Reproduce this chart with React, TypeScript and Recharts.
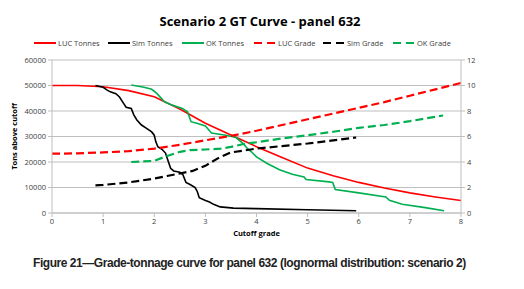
import { LineChart, Line, XAxis, YAxis, CartesianGrid } from "recharts";

// LUC (red)
const lucGrade = [0, 0.5, 1, 1.5, 2, 2.5, 3, 3.5, 4, 4.5, 5, 5.5, 6, 6.5, 7, 7.5, 8];
const lucTonnes = [50000, 50000, 49500, 48000, 45600, 40800, 35200, 30600, 26000, 21800, 17600, 14600, 12000, 9800, 7900, 6300, 4900];
const lucMeanGrade = [4.65, 4.68, 4.75, 4.85, 5.05, 5.35, 5.7, 6.05, 6.45, 6.9, 7.35, 7.8, 8.25, 8.7, 9.2, 9.7, 10.2];

// Sim (black)
const simTonnesGrade = [0.85, 1.0, 1.08, 1.14, 1.25, 1.32, 1.4, 1.45, 1.55, 1.6, 1.66, 1.75, 1.85, 1.95, 2.0, 2.03, 2.07, 2.15, 2.22, 2.27, 2.32, 2.38, 2.5, 2.56, 2.62, 2.7, 2.8, 2.84, 2.88, 2.99, 3.08, 3.16, 3.29, 3.45, 3.55, 4.0, 5.0, 5.95];
const simTonnes = [50000, 49300, 48200, 47500, 46800, 45500, 43000, 41500, 41000, 38500, 36500, 34500, 33200, 31800, 30500, 28000, 26000, 25000, 23500, 20500, 17500, 16500, 16000, 15000, 12000, 11200, 10000, 8500, 6000, 5000, 4300, 3400, 2400, 2100, 1900, 1700, 1300, 900];
const simMeanGradeX = [0.85, 1.0, 1.25, 1.5, 1.75, 2.0, 2.25, 2.5, 2.75, 3.0, 3.25, 3.5, 3.75, 4.0, 4.5, 5.0, 5.5, 5.95];
const simMeanGrade = [2.17, 2.2, 2.3, 2.4, 2.55, 2.7, 2.9, 3.1, 3.3, 3.7, 4.3, 4.75, 4.9, 5.05, 5.25, 5.45, 5.7, 5.92];

// OK (green)
const okTonnesGrade = [1.55, 1.8, 1.95, 2.05, 2.2, 2.35, 2.55, 2.65, 2.72, 2.85, 3.0, 3.12, 3.4, 3.6, 3.75, 3.82, 3.9, 4.0, 4.2, 4.45, 4.7, 4.93, 4.97, 5.42, 5.49, 5.54, 6.0, 6.53, 6.6, 6.85, 7.3, 7.67];
const okTonnes = [50200, 49300, 48500, 46900, 43600, 42300, 41000, 39700, 35800, 35100, 34100, 31400, 30500, 29600, 27000, 25300, 24000, 22000, 19500, 17000, 15200, 14100, 13100, 12200, 12000, 9200, 7900, 6300, 5000, 3400, 2100, 900];
const okMeanGradeX = [1.55, 2.0, 2.2, 2.5, 2.7, 3.0, 3.3, 3.5, 3.8, 4.0, 4.5, 5.0, 5.5, 6.0, 6.5, 7.0, 7.5, 7.65];
const okMeanGrade = [4.0, 4.09, 4.4, 4.8, 4.93, 4.98, 5.05, 5.19, 5.45, 5.55, 5.85, 6.1, 6.37, 6.68, 6.9, 7.2, 7.55, 7.65];

const xTicks = [0, 1, 2, 3, 4, 5, 6, 7, 8];
const leftTicks = [0, 10000, 20000, 30000, 40000, 50000, 60000];
const rightTicks = [0, 2, 4, 6, 8, 10, 12];

const pairs = (xs: number[], ys: number[]) => xs.map((x, i) => ({ x, y: ys[i] }));

const series = [
  { name: "LUC Tonnes", data: pairs(lucGrade, lucTonnes), color: "#FF0000", axis: "left", dash: undefined },
  { name: "Sim Tonnes", data: pairs(simTonnesGrade, simTonnes), color: "#000000", axis: "left", dash: undefined },
  { name: "OK Tonnes", data: pairs(okTonnesGrade, okTonnes), color: "#00B050", axis: "left", dash: undefined },
  { name: "LUC Grade", data: pairs(lucGrade, lucMeanGrade), color: "#FF0000", axis: "right", dash: "8 4" },
  { name: "Sim Grade", data: pairs(simMeanGradeX, simMeanGrade), color: "#000000", axis: "right", dash: "8 4" },
  { name: "OK Grade", data: pairs(okMeanGradeX, okMeanGrade), color: "#00B050", axis: "right", dash: "8 4" },
];

const legendPos = [34, 108, 182, 254, 323, 393];
const font = "'Open Sans', sans-serif";
const tick = { fill: "#404040", fontSize: 7.5, fontFamily: font };

export default function App() {
  return (
    <div style={{ position: "absolute", left: 0, top: 0, width: 524, height: 289, background: "#fff" }}>
      <div style={{ position: "absolute", top: 12, left: 0, width: 520, textAlign: "center", fontFamily: font, fontWeight: 700, fontSize: 13, color: "#000" }}>
        Scenario 2 GT Curve - panel 632
      </div>
      {series.map((s, i) => (
        <div key={s.name} style={{ position: "absolute", left: legendPos[i], top: 37, height: 12, display: "flex", alignItems: "center", fontFamily: font, fontSize: 7.5, color: "#404040" }}>
          <svg width={22} height={4} style={{ marginRight: 2 }}>
            <line x1={0} y1={2} x2={22} y2={2} stroke={s.color} strokeWidth={2} strokeDasharray={s.dash ? "8 5" : undefined} />
          </svg>
          {s.name}
        </div>
      ))}
      <div style={{ position: "absolute", left: 0, top: 0 }}>
        <LineChart width={524} height={250} margin={{ top: 60, right: 33, left: 12, bottom: 7 }}>
          <CartesianGrid vertical={false} stroke="#BFBFBF" yAxisId="left" />
          <XAxis
            type="number"
            dataKey="x"
            domain={[0, 8]}
            ticks={xTicks}
            allowDataOverflow
            stroke="#BFBFBF"
            tick={tick}
            tickSize={4}
            height={30}
            label={{ value: "Cutoff grade", position: "insideBottom", offset: 7, style: { fill: "#000", fontSize: 7.5, fontWeight: 700, fontFamily: font } }}
          />
          <YAxis
            yAxisId="left"
            domain={[0, 60000]}
            ticks={leftTicks}
            width={40}
            stroke="#BFBFBF"
            tick={tick}
            tickSize={4}
            label={{ value: "Tons  above cutoff", angle: -90, position: "insideLeft", offset: 2, style: { fill: "#000", fontSize: 7.5, fontWeight: 700, fontFamily: font, textAnchor: "middle" } }}
          />
          <YAxis
            yAxisId="right"
            orientation="right"
            domain={[0, 12]}
            ticks={rightTicks}
            width={30}
            stroke="#BFBFBF"
            tick={tick}
            tickSize={4}
          />
          {series.map((s) => (
            <Line
              key={s.name}
              name={s.name}
              data={s.data}
              dataKey="y"
              yAxisId={s.axis}
              type="linear"
              stroke={s.color}
              strokeWidth={s.dash ? 2.2 : 1.6}
              strokeDasharray={s.dash}
              dot={false}
              isAnimationActive={false}
            />
          ))}
        </LineChart>
      </div>
      <div style={{ position: "absolute", top: 256, left: 33, whiteSpace: "nowrap", fontFamily: "'Liberation Sans', Arial, sans-serif", fontWeight: 700, fontSize: 12, letterSpacing: -0.45, color: "#222" }}>
        Figure 21—Grade-tonnage curve for panel 632 (lognormal distribution: scenario 2)
      </div>
    </div>
  );
}
